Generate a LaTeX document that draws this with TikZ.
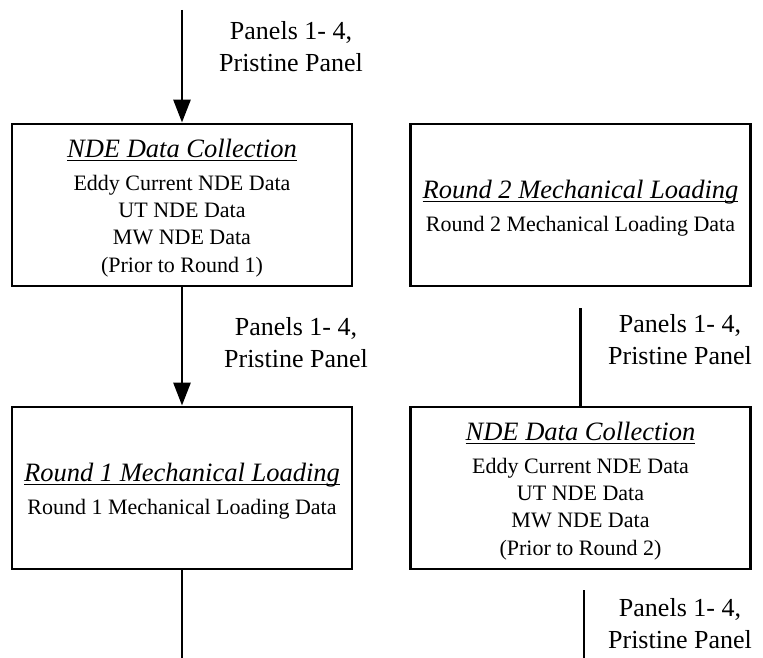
\documentclass[tikz,border=0pt]{standalone}
\usepackage{fontspec}
\setmainfont{Liberation Serif}
\usetikzlibrary{arrows.meta}
\newcommand{\myul}[1]{\setbox0\hbox{#1}\rlap{\rule[-3.5pt]{\wd0}{1.3pt}}\box0}
\newcommand{\ttl}[1]{{\fontsize{26.5}{27}\selectfont\rule{0pt}{25pt}\myul{\textit{#1}}}}
\tikzset{
  box/.style={draw, line width=2.9pt, rectangle, minimum width=340pt, minimum height=162pt,
    inner sep=0pt, align=center, font=\fontsize{22}{27}\selectfont},
  lbl/.style={align=center, inner sep=0pt, font=\fontsize{26}{32}\selectfont},
  conn/.style={line width=2.9pt},
  arr/.style={conn, -{Triangle[length=23pt,width=17pt]}}
}
\begin{document}
\begin{tikzpicture}[x=1pt,y=-1pt]
\useasboundingbox (0,0) rectangle (763,658);
\node[box] (ndeA) at (182,205) {\ttl{NDE Data Collection}\\[6pt]Eddy Current NDE Data\\UT NDE Data\\MW NDE Data\\[1pt](Prior to Round 1)};
\node[box] (rnd1) at (182,488) {\ttl{Round 1 Mechanical Loading}\\[6pt]Round 1 Mechanical Loading Data};
\node[box] (rnd2) at (580.5,205) {\ttl{Round 2 Mechanical Loading}\\[6pt]Round 2 Mechanical Loading Data};
\node[box] (ndeB) at (580.5,488) {\ttl{NDE Data Collection}\\[6pt]Eddy Current NDE Data\\UT NDE Data\\MW NDE Data\\[1pt](Prior to Round 2)};
\coordinate (topin) at (182,10);
\coordinate (leftout) at (182,660);
\coordinate (rtin) at (580.5,308);
\coordinate (rbout) at (584,590);
\coordinate (rbend) at (584,660);
\draw[arr] (topin) -- (ndeA.north);
\draw[arr] (ndeA.south) -- (rnd1.north);
\draw[conn] (rnd1.south) -- (leftout);
\draw[conn] (rtin) -- (ndeB.north);
\draw[conn] (rbout) -- (rbend);
\node[lbl] (l1) at (291,47) {Panels 1- 4,\\Pristine Panel};
\node[lbl] (l2) at (296,343) {Panels 1- 4,\\Pristine Panel};
\node[lbl] (l3) at (680,340) {Panels 1- 4,\\Pristine Panel};
\node[lbl] (l4) at (680,624) {Panels 1- 4,\\Pristine Panel};
\end{tikzpicture}
\end{document}
